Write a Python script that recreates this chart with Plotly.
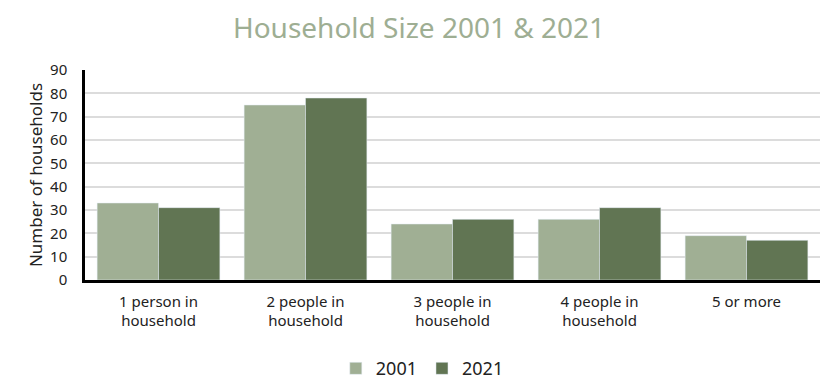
import plotly.graph_objects as go

categories = ["1 person in<br>household", "2 people in<br>household", "3 people in<br>household",
              "4 people in<br>household", "5 or more"]
values_2001 = [33, 75, 24, 26, 19]
values_2021 = [31, 78, 26, 31, 17]
y_ticks = [0, 10, 20, 30, 40, 50, 60, 70, 80, 90]

fig = go.Figure()
fig.add_trace(go.Bar(name="2001", x=categories, y=values_2001, marker=dict(color="#a0af94")))
fig.add_trace(go.Bar(name="2021", x=categories, y=values_2021, marker=dict(color="#617553")))

fig.update_layout(
    width=820, height=382,
    margin=dict(l=85, r=0, t=70, b=102),
    paper_bgcolor="white", plot_bgcolor="white",
    barmode="group", bargap=0.165, bargroupgap=0,
    font=dict(family="Noto Sans, Open Sans, DejaVu Sans, sans-serif", color="#222222", size=15),
    title=dict(text="Household Size 2001 & 2021", x=0.511, xanchor="center", y=0.925, yanchor="middle",
               font=dict(size=28, color="#9eae93")),
    legend=dict(orientation="h", xref="container", yref="container", x=0.515, xanchor="center",
                y=0.035, yanchor="middle", font=dict(size=18, color="#222222"), itemwidth=30),
    xaxis=dict(showline=True, linecolor="black", linewidth=2.5, ticks="", tickfont=dict(size=15),
               ticklabelstandoff=6),
    yaxis=dict(range=[0, 90], tickvals=y_ticks, showline=True, linecolor="black", linewidth=2.5,
               showgrid=True, gridcolor="#dcdcdc", gridwidth=1.5, ticks="", zeroline=False,
               ticklabelstandoff=12,
               title=dict(text="Number of households", font=dict(size=17), standoff=4),
               tickfont=dict(size=15)),
)
fig.write_html("out.html")
